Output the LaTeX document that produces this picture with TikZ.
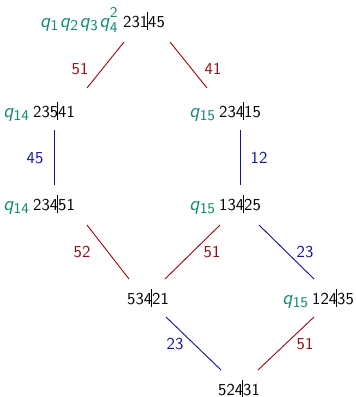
\documentclass[tikz,border=0pt]{standalone}
\usepackage{amsmath}
\renewcommand{\familydefault}{\sfdefault}
\definecolor{qcol}{RGB}{20,140,115}
\definecolor{rcol}{RGB}{150,10,20}
\definecolor{bcol}{RGB}{20,20,150}
\newcommand{\vbr}{\makebox[0pt]{\hspace*{-0.12em}\rule[-0.35ex]{0.45pt}{2.35ex}}}
\newcommand{\qv}[1]{\textit{q}$_{\textsf{\small #1}}$}
\tikzset{
  perm/.style={inner sep=0pt, font=\sffamily},
  qlab/.style={inner sep=0pt, text=qcol, anchor=base east, font=\sffamily\large},
  red edge/.style={draw=rcol, line width=0.55pt},
  blue edge/.style={draw=bcol, line width=0.55pt},
  rl/.style={text=rcol, font=\sffamily, inner sep=0pt},
  bl/.style={text=bcol, font=\sffamily, inner sep=0pt}
}
\begin{document}
\begin{tikzpicture}[x=0.6pt,y=-0.6pt]
\useasboundingbox (0,0) rectangle (355,397);
% permutation nodes
\node[perm] (t) at (144,21) {231\vbr45};
\node[perm] (a) at (54,111) {235\vbr41};
\node[perm] (b) at (240,111) {234\vbr15};
\node[perm] (c) at (54,204) {234\vbr51};
\node[perm] (d) at (240,204) {134\vbr25};
\node[perm] (e) at (148,298) {534\vbr21};
\node[perm] (f) at (333,298) {124\vbr35};
\node[perm] (g) at (239,389) {524\vbr31};
% q prefixes
\node[qlab] (qt) at ([xshift=-2.5pt]t.base west) {\textit{q}$_{\textsf{\small 1}}$\kern0.5pt\textit{q}$_{\textsf{\small 2}}$\kern0.5pt\textit{q}$_{\textsf{\small 3}}$\kern0.5pt\textit{q}$^{\raisebox{1.5pt}{\textsf{\small 2}}}_{\textsf{\small 4}}$};
\node[qlab] (qa) at ([xshift=-1.5pt]a.base west) {\qv{14}};
\node[qlab] (qb) at ([xshift=-1.5pt]b.base west) {\qv{15}};
\node[qlab] (qc) at ([xshift=-1.5pt]c.base west) {\qv{14}};
\node[qlab] (qd) at ([xshift=-1.5pt]d.base west) {\qv{15}};
\node[qlab] (qf) at ([xshift=-1.5pt]f.base west) {\qv{15}};
% edge end coordinates
\coordinate (t1) at (124,42); \coordinate (a1) at (87,88);
\coordinate (t2) at (170,42); \coordinate (b1) at (207,88);
\coordinate (a2) at (54,130); \coordinate (c1) at (54,185);
\coordinate (b2) at (240,130); \coordinate (d1) at (240,185);
\coordinate (c2) at (87,225); \coordinate (e1) at (129,279);
\coordinate (d2) at (220,225); \coordinate (e2) at (165,279);
\coordinate (d3) at (259,225); \coordinate (f1) at (314,279);
\coordinate (e3) at (166,317); \coordinate (g1) at (221,370);
\coordinate (f2) at (314,317); \coordinate (g2) at (258,370);
\draw[red edge] (t1) -- (a1);
\draw[red edge] (t2) -- (b1);
\draw[blue edge] (a2) -- (c1);
\draw[blue edge] (b2) -- (d1);
\draw[red edge] (c2) -- (e1);
\draw[red edge] (d2) -- (e2);
\draw[blue edge] (d3) -- (f1);
\draw[blue edge] (e3) -- (g1);
\draw[red edge] (f2) -- (g2);
% edge labels
\node[rl] (l1) at (80,69) {51};
\node[rl] (l2) at (213,69) {41};
\node[bl] (l3) at (35,158) {45};
\node[bl] (l4) at (259,158) {12};
\node[rl] (l5) at (82,252) {52};
\node[rl] (l6) at (212,252) {51};
\node[bl] (l7) at (305,252) {23};
\node[bl] (l8) at (175,344) {23};
\node[rl] (l9) at (305,344) {51};
\end{tikzpicture}
\end{document}
